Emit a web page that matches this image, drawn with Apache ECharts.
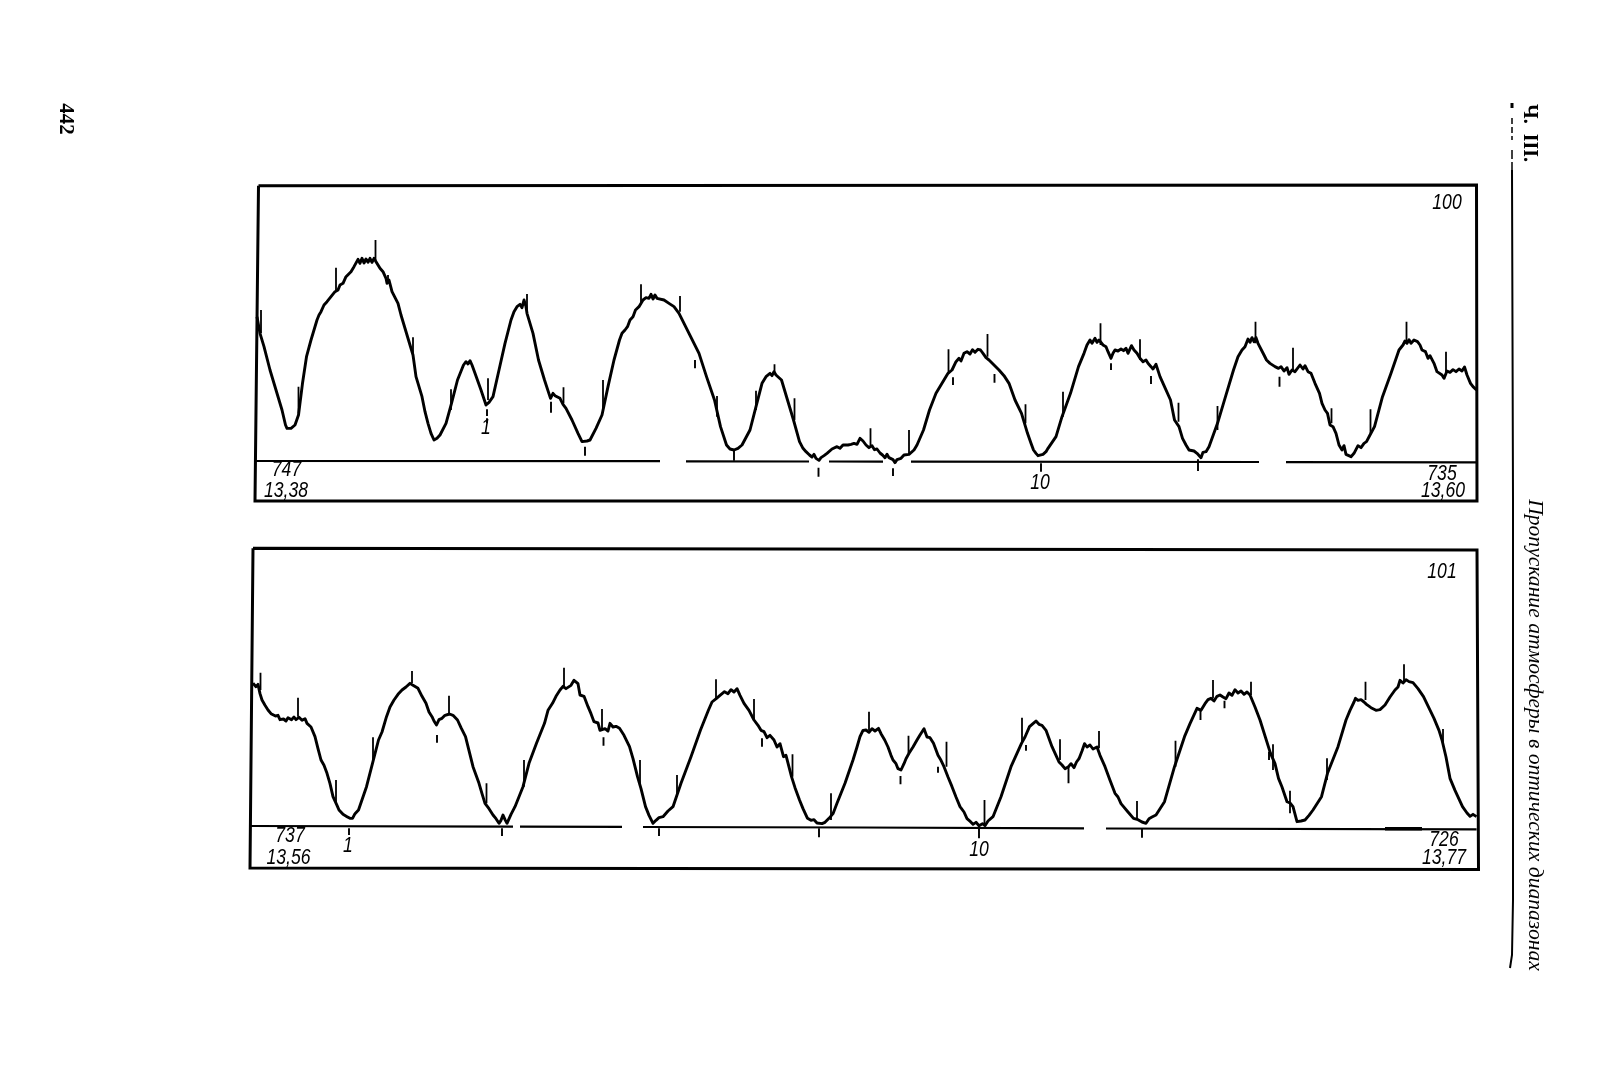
<!DOCTYPE html>
<html><head><meta charset="utf-8">
<style>html,body{margin:0;padding:0;background:#fff}#c{width:1601px;height:1076px}</style>
<script src="https://cdn.jsdelivr.net/npm/echarts@6/dist/echarts.min.js"></script>
</head><body><div id="c"></div>
<script>
// Recorder trace 100: [position, level above the zero line]
const trace100 = [[7,435],[10,385],[14,345],[20,275],[26,215],[32,155],[35.5,110],[37,100],[39,106],[41,100],[45,110],[48.5,140],[52.5,235],[56.5,315],[61,365],[67,425],[69,440],[71,450],[74,470],[77,480],[81,495],[85,510],[88,515],[90,530],[93,535],[96,555],[98,550],[101,570],[104,585],[106,590],[108,607],[110,595],[112,610],[114,596],[116,608],[118,598],[120,610],[122,598],[124,610],[126,600],[128,602],[130,580],[133,570],[136,550],[137,535],[139,545],[142,510],[148,475],[151,440],[154,410],[160,350],[163,320],[166,255],[172,195],[175,150],[178,115],[181,85],[184,65],[187,70],[190,80],[196,115],[201.5,175],[207.5,245],[213.5,290],[216,300],[218,293],[220,303],[222,290],[225,265],[231,215],[236,170],[239,178],[243,195],[249,275],[255,355],[261,425],[264,450],[267,465],[270,472],[272,462],[274,485],[276,465],[277,445],[283,385],[288.5,305],[294.5,245],[300.5,190],[303,205],[305,198],[307,202],[310,190],[313,172],[316,160],[322,125],[328,85],[332,60],[334,55],[337,62],[340,65],[346,100],[352,140],[358,225],[364,305],[369.5,365],[372,385],[375,395],[377.5,405],[380,425],[383,435],[385.5,455],[389,465],[393,485],[396,492],[399,490],[401,502],[403,488],[405,500],[407,490],[409,495],[414,485],[419,475],[424,465],[429,445],[434,415],[439,385],[449,325],[456.5,255],[464.5,185],[470.5,105],[476.5,50],[480,38],[484,35],[488,40],[492,50],[500,95],[506,165],[512,235],[516,255],[520,265],[522,258],[524,270],[526,260],[528,262],[531.5,245],[537.5,185],[543.5,125],[549.5,60],[553,40],[556,30],[559.5,20],[562,14],[564,22],[566,10],[569,4],[571,12],[574,18],[577,25],[579,30],[582,38],[584,34],[587,45],[590,40],[593,50],[595,47],[598,50],[601,52],[604,55],[607,52],[610,70],[613,62],[616,50],[619,42],[622,48],[624.5,36],[627,38],[630,26],[632.5,20],[635,12],[637,22],[639,12],[641,14],[643,6],[645,-3],[647,6],[649,12],[651,10],[654,20],[656,14],[659,22],[661,22],[664,35],[667,50],[673.5,95],[679.5,155],[686,205],[692,235],[698,265],[702,275],[706,300],[709,310],[711,302],[714,325],[717,330],[720,323],[722.5,336],[725,328],[728,337],[730.5,335],[733,325],[736,312],[739,305],[744,290],[749,275],[754,258],[759,235],[765,185],[771.5,145],[777.5,85],[781,55],[783.5,35],[786,25],[788,18],[790,15],[793,22],[796,30],[798,40],[806,75],[812,135],[820.5,205],[828.5,285],[834,325],[837,350],[840,365],[842,355],[845,370],[847,358],[849,365],[853,350],[856,345],[858,330],[861,310],[863,325],[865,335],[868,332],[871,338],[873.5,333],[876,340],[878,325],[881.5,348],[884,335],[887,325],[890,310],[893,300],[896,305],[898,295],[901,285],[903,278],[906,292],[910,255],[914.5,225],[920.5,185],[924.5,125],[926,130],[929,105],[932.5,70],[936,50],[939,35],[941,30],[944,32],[947,25],[949,30],[951,12],[953,28],[956,30],[959,45],[967.5,115],[975.5,195],[983.5,275],[988,315],[992,335],[995,345],[998,368],[1000,358],[1002,372],[1004,360],[1006,372],[1008,355],[1010,350],[1014,320],[1016.5,305],[1020,295],[1022,300],[1025,285],[1028.5,280],[1031,285],[1034,272],[1037,282],[1039,262],[1042,275],[1045,270],[1047,275],[1050,290],[1053,278],[1055,288],[1058,270],[1061,265],[1065,235],[1069.5,205],[1072,175],[1075,155],[1077.5,145],[1080,110],[1083,105],[1086,85],[1089,50],[1092,35],[1094,48],[1096,22],[1098,17],[1101,15],[1104,25],[1106,25],[1108,48],[1111,42],[1114,55],[1116.5,60],[1120,80],[1124.5,105],[1132.5,195],[1141,265],[1149,335],[1153,350],[1155,362],[1157,355],[1159,366],[1161,355],[1164,365],[1167.5,360],[1170,350],[1172,335],[1175.5,330],[1178,310],[1180,318],[1184,295],[1187,270],[1189,275],[1192,260],[1194,250],[1197,272],[1200,268],[1203,276],[1206,270],[1209,278],[1212,272],[1214.5,284],[1217,260],[1220.5,235],[1223,225],[1226.5,215]];
const spikes100 = [[11,455,385],[48.5,225,145],[86,582,515],[125.5,665,605],[138,560,535],[163,373,315],[201,217,155],[238,250,185],[277,503,445],[313.5,223,175],[353,245,155],[391,532,475],[430,497,450],[467,197,135],[506,213,155],[544.5,190,125],[524.5,292,263],[620.5,100,45],[659,95,20],[698.5,337,265],[737.5,383,315],[775.5,172,115],[813,210,135],[850.5,415,350],[890,367,305],[928.5,177,120],[967.5,167,95],[1005.5,420,355],[1043,342,270],[1081.5,160,115],[1120.5,157,85],[1156.5,420,355],[1196,330,265]];
const dashes100 = [[301,180,147],[237,157,137],[237,130,115],[335,45,18],[445,305,280],[484,35,3],[568.5,-18,-45],[643,-20,-43],[703,253,230],[744.5,263,237],[791,-5,-30],[861,295,275],[901,257,233],[948,7,-28],[1029.5,255,225]];
const zero100 = [[5,2],[410,1.5],[null,null],[436,1],[559,0.5],[null,null],[579,0.5],[633,0],[null,null],[661,0],[1009,-1],[null,null],[1036,-1.5],[1227,-2]];

// Recorder trace 101
const trace101 = [[3,431],[5,425],[6,421],[8,428],[10,400],[12,381],[15,365],[18,351],[21,340],[23,343],[25.5,333],[28,335],[30,322],[33.5,324],[36,318],[38,328],[41.5,322],[44,330],[46,322],[49,329],[52,320],[55,325],[57,311],[61,300],[65,271],[68,235],[71,201],[74,185],[77,161],[80,130],[83,91],[85,85],[87,65],[89,51],[93,38],[97,31],[100,26],[102.5,26],[105,40],[108.5,51],[116.5,121],[122.5,191],[128.5,261],[132,285],[136.5,331],[140,360],[144,381],[148,398],[152,411],[156,420],[160,431],[163,425],[165,420],[168,416],[172,392],[176,371],[179,345],[182,331],[184,318],[186.5,306],[189,322],[192,326],[195,335],[197,332],[199.5,339],[203,335],[207.5,321],[211,298],[215.5,271],[223,181],[229,131],[232,100],[235,71],[239,55],[243,36],[246,25],[249,11],[251,20],[253,36],[255,22],[257,11],[261,38],[265,61],[273,121],[279,191],[286.5,251],[294.5,311],[298,350],[302.5,371],[306,392],[310,411],[313,422],[316,415],[318,421],[321,425],[324,440],[326,441],[328,430],[330,396],[334,392],[338,361],[341,340],[344,316],[348,312],[350,290],[352,286],[355,295],[358,288],[360,311],[363,300],[366,302],[369.5,296],[374,275],[379.5,241],[383,205],[387.5,151],[391,115],[395.5,61],[399,35],[403,11],[406,20],[409,28],[413,31],[418,48],[423,61],[431,131],[441,211],[450.5,291],[458.5,351],[462,375],[466.5,386],[470,395],[474.5,406],[478,400],[481,412],[484,405],[487,415],[490,395],[494,371],[499,350],[504,321],[508,305],[511,290],[514,286],[517,268],[520,275],[524,261],[527,240],[530,250],[533.5,211],[536,215],[541.5,151],[545,118],[549.5,81],[553,55],[557.5,26],[561,20],[564,22],[567,12],[569,16],[572,10],[575,14],[579,26],[583,40],[587,71],[595,131],[603,201],[607,240],[610,271],[613,290],[616,291],[619,284],[622,295],[625,288],[628.5,296],[631,280],[634.7,261],[638,240],[641,215],[643,201],[646,190],[648,175],[651,171],[654,190],[656,205],[659,221],[663,240],[667,261],[670,276],[672,270],[674,295],[677,270],[680,268],[683.5,251],[688,215],[691,200],[694,181],[698,150],[702,121],[706,90],[710,61],[714,45],[717,25],[720.5,16],[723,8],[726,14],[729,4],[732.5,10],[735,4],[738,18],[743,31],[751,91],[761,181],[771.5,251],[775,270],[779.5,301],[783,310],[786,318],[789,308],[792,305],[796,290],[802,241],[806,215],[809,195],[812,186],[815,175],[818.5,181],[821,190],[824,178],[826.5,195],[829,205],[832,228],[834.5,250],[837,240],[840,246],[843,234],[847,240],[850,215],[855,181],[860,140],[865,101],[868,90],[871,70],[873.5,61],[878,45],[883.5,26],[888,22],[892,15],[896,11],[899,25],[902,30],[906,36],[914.5,76],[924.5,181],[934.5,271],[940,310],[947,356],[951,350],[955,370],[958,382],[961,386],[964,378],[967,392],[970,396],[973,390],[976,385],[979,402],[982,395],[985,412],[988,402],[991,408],[994,398],[997,405],[1000,396],[1005,360],[1010,321],[1020.5,221],[1025,190],[1028.5,146],[1032,120],[1037,76],[1040,72],[1043,61],[1047,16],[1051,18],[1055,21],[1059,35],[1063,51],[1071.5,91],[1077.5,161],[1088,241],[1096,321],[1100,350],[1104,375],[1105.5,386],[1108,380],[1111,382],[1114,375],[1116.5,368],[1121,358],[1126,350],[1130,352],[1135,366],[1140,390],[1145,411],[1148,420],[1150,440],[1153,432],[1156,442],[1159,436],[1163,433],[1168,415],[1173.5,391],[1184,326],[1189,290],[1192,261],[1196,210],[1200,146],[1205,110],[1212.5,61],[1217,42],[1220,32],[1223,38],[1226.5,31]];
const spikes101 = [[10.5,463,411],[48,388,331],[86,141,71],[123,269,191],[162,468,431],[199,394,336],[236.5,131,71],[274,201,121],[314,478,416],[352,354,291],[390,201,131],[427,156,91],[466,443,386],[504,384,321],[542.5,218,151],[581,101,21],[619,346,291],[658.5,274,221],[696.5,256,181],[734.5,81,6],[772,328,251],[810,263,201],[849,288,236],[887,78,21],[925.5,259,181],[963,441,386],[1001,436,396],[1023,248,171],[1040,109,41],[1077,206,141],[1115.5,436,381],[1154,488,436],[1193,294,251]];
const dashes101 = [[187,276,253],[353.5,269,244],[512,266,241],[99,-4,-24],[252,-4,-27],[409,-4,-27],[569,-4,-31],[650.5,153,128],[688,181,163],[776,246,229],[818.5,181,131],[950.5,351,321],[974.5,379,356],[1019,226,201],[729,-4,-34],[892,-4,-32]];
const zero101 = [[0,3],[263,1],[null,null],[270,1],[372,0.5],[null,null],[393,0],[610,-1.5],[834,-4],[null,null],[856,-4.5],[1226.6,-7]];
const heavy101 = [[1135,-5],[1172,-5.5]];

const ticksAsLine = a => a.flatMap(([x,t,b]) => [[x,t],[x,b],[null,null]]);
const sans = 'italic 22px "Liberation Sans",sans-serif';

const panels = [
  {top:170, trace:trace100, spikes:spikes100, dashes:dashes100, base:zero100, yMax:875, yMin:-145},
  {top:540, trace:trace101, spikes:spikes101, dashes:dashes101, base:zero101, yMax:861, yMin:-159}
];
const grid=[],xAxis=[],yAxis=[],series=[];
panels.forEach((p,i)=>{
  grid.push({left:250,top:p.top,width:1230,height:340,show:false});
  xAxis.push({type:'value',gridIndex:i,min:0,max:1230,show:false});
  yAxis.push({type:'value',gridIndex:i,min:p.yMin,max:p.yMax,show:false});
  const line=(data,w,name)=>({type:'line',name,xAxisIndex:i,yAxisIndex:i,data,symbol:'none',silent:true,animation:false,connectNulls:false,clip:false,
    lineStyle:{color:'#000',width:w,cap:'butt',join:'round'}});
  series.push(line(p.base,2.2,'zero'));
  series.push(line(ticksAsLine(p.spikes),1.8,'spikes'));
  series.push(line(ticksAsLine(p.dashes),1.9,'dashes'));
  series.push(line(p.trace,2.9,'trace'));
});
series.push({type:'line',xAxisIndex:1,yAxisIndex:1,data:heavy101,symbol:'none',animation:false,lineStyle:{color:'#000',width:3.5}});

const frame = pts => ({type:'polyline',shape:{points:pts},silent:true,style:{stroke:'#000',lineWidth:3,fill:null}});
const label = (text,x,y) => ({type:'text',x,y,scaleX:0.8,silent:true,style:{text,font:sans,fill:'#000',align:'center',verticalAlign:'middle'}});
const graphic = [
  frame([[258.5,185.7],[1476.5,185],[1477,501],[255,501],[258.5,185.7]]),
  frame([[253,548.3],[1477,550],[1478.5,869.5],[250,868],[253,548.3]]),
  label('100',1447,202.5),label('747',286.5,470),label('13,38',286,491),label('1',486,427.5),
  label('10',1040,483),label('735',1442,473.5),label('13,60',1443,491),
  label('101',1442,571.5),label('737',290,836),label('13,56',288.5,857.5),label('1',348,846),
  label('10',979,849.5),label('726',1444,839.5),label('13,77',1444,858),
  {type:'text',x:65,y:119,rotation:-Math.PI/2,silent:true,style:{text:'442',font:'bold 21px "Liberation Serif",serif',fill:'#000',align:'center',verticalAlign:'middle'}},
  {type:'text',x:1529,y:133,rotation:-Math.PI/2,silent:true,style:{text:'Ч.  III.',font:'bold 20px "Liberation Serif",serif',fill:'#000',align:'center',verticalAlign:'middle'}},
  {type:'text',x:1535,y:735,rotation:-Math.PI/2,silent:true,style:{text:'Пропускание атмосферы в оптических диапазонах',font:'italic 21.6px "Liberation Serif",serif',fill:'#000',align:'center',verticalAlign:'middle'}},
  {type:'polyline',silent:true,shape:{points:[[1512,170],[1513,500],[1513,900],[1512,955],[1510,968]]},style:{stroke:'#000',lineWidth:2,fill:null}},
  {type:'polyline',silent:true,shape:{points:[[1512,103],[1512,108]]},style:{stroke:'#000',lineWidth:3,fill:null}},
  {type:'polyline',silent:true,shape:{points:[[1512,118],[1512,140]]},style:{stroke:'#000',lineWidth:1.5,lineDash:[6,3],fill:null}},
  {type:'polyline',silent:true,shape:{points:[[1512,150],[1512,172]]},style:{stroke:'#000',lineWidth:1.5,lineDash:[9,3],fill:null}}
];
const chart = echarts.init(document.getElementById('c'),null,{renderer:'canvas'});
chart.setOption({backgroundColor:'#fff',animation:false,grid,xAxis,yAxis,series,graphic});
</script></body></html>
